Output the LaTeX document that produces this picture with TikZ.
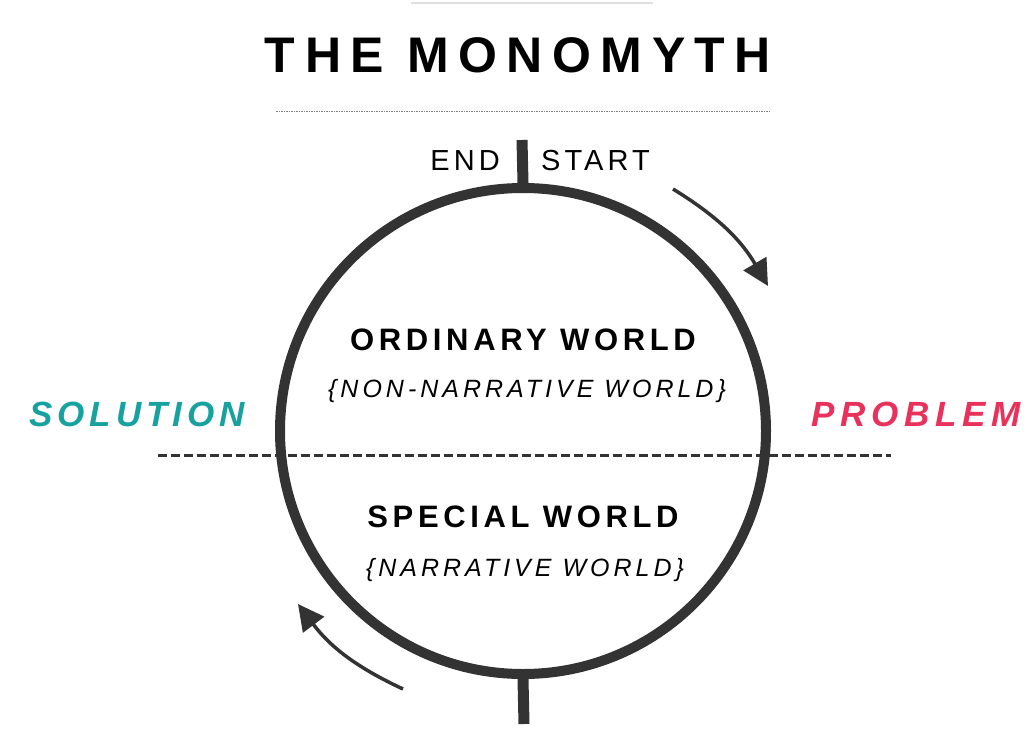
\documentclass[tikz,border=0pt]{standalone}
\usepackage{fontspec}
\setmainfont{Liberation Sans}
\usetikzlibrary{arrows.meta, positioning}
\definecolor{ink}{HTML}{333333}
\definecolor{solteal}{HTML}{17A2A0}
\definecolor{probred}{HTML}{E8325C}

\begin{document}
\begin{tikzpicture}[x=1pt,y=1pt,
  txt/.style={inner sep=0,anchor=base},
  heading/.style={txt,font=\fontsize{50}{50}\selectfont\bfseries\addfontfeature{LetterSpace=19}},
  ends/.style={txt,font=\fontsize{29}{29}\selectfont\addfontfeature{LetterSpace=14}},
  worldname/.style={txt,font=\fontsize{31}{31}\selectfont\bfseries\addfontfeature{LetterSpace=15}},
  worldsub/.style={txt,font=\fontsize{25}{25}\selectfont\itshape\addfontfeature{LetterSpace=16}},
  sidename/.style={txt,font=\fontsize{35}{35}\selectfont\bfseries\itshape\addfontfeature{LetterSpace=14}},
  stem/.style={ink,line width=11pt},
  flow/.style={ink,line width=3.5pt,-{Triangle[length=26pt,width=26pt]}}]
 \fill[white] (0,0) rectangle (1031,-747);
 \useasboundingbox (0,0) rectangle (1031,-747);
 % title
 \draw[gray!25,line width=1.5pt] (411,-3) -- (653,-3);
 \node[heading] (title) at (518,-72) {THE MONOMYTH};
 \coordinate (rulel) at (276,-111);
 \coordinate (ruler) at (771,-111);
 \draw[gray,line width=0.8pt,dash pattern=on 1.5pt off 1pt] (rulel) -- (ruler);
 % the cycle
 \node[draw=ink,circle,line width=10pt,inner sep=0,minimum size=486pt] (world) at (523,-431) {};
 \coordinate (topstem) at (522,-140);
 \coordinate (botstem) at (524,-724);
 \draw[stem] (topstem) -- (world.north);
 \draw[stem] (world.south) -- (botstem);
 \node[ends,anchor=base east] (end) at (500,-170) {END};
 \node[ends,anchor=base west] (start) at (541,-170) {START};
 % worlds
 \node[worldname] (ordinary) at (523,-350) {ORDINARY WORLD};
 \node[worldsub] (ordsub) at (527,-397) {\{NON-NARRATIVE WORLD\}};
 \node[worldname] (special) at (523,-527) {SPECIAL WORLD};
 \node[worldsub] (specsub) at (525,-576) {\{NARRATIVE WORLD\}};
 \coordinate (splitl) at (158,-455);
 \coordinate (splitr) at (891,-455);
 \draw[ink,line width=3pt,dash pattern=on 9pt off 4pt] (splitl) -- (splitr);
 \node[sidename,solteal] (solution) at (137,-426) {SOLUTION};
 \node[sidename,probred,font=\fontsize{35}{35}\selectfont\bfseries\itshape\addfontfeature{LetterSpace=16}] (problem) at (916,-426) {PROBLEM};
 % direction
 \coordinate (a1) at (673,-189);
 \coordinate (a2) at (768,-286);
 \coordinate (b1) at (403,-689);
 \coordinate (b2) at (298,-604);
 \path[flow]
  (a1) edge [bend left=14] (a2)
  (b1) edge [bend left=14] (b2);
\end{tikzpicture}
\end{document}
